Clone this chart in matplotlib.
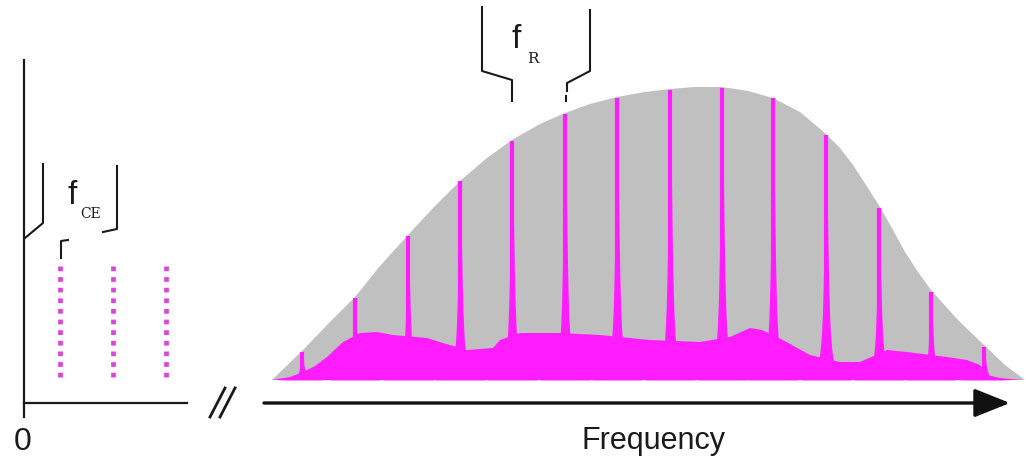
import numpy as np
import matplotlib
matplotlib.use("Agg")
import matplotlib.pyplot as plt

# all coordinates are in picture pixels (x right, y down)
baseline = 380

# broad gray spectral envelope
env_x = [272, 303, 330, 355, 380, 408, 435, 460, 487, 512, 540, 565, 590, 617,
         645, 670, 695, 722, 748, 773, 800, 826, 840, 853, 866, 880, 893, 905,
         918, 931, 958, 984, 1005, 1025]
env_y = [380, 350, 322, 297, 266, 235, 206, 181, 158, 140, 124, 113, 104, 97,
         92, 89, 87, 87, 91, 98, 112, 134, 148, 165, 185, 207, 230, 252,
         272, 290, 320, 345, 365, 380]

# magenta noise floor
floor_x = [272, 290, 303, 315, 327, 343, 360, 377, 393, 427, 443, 457, 467,
           493, 500, 520, 560, 600, 650, 700, 730, 750, 762, 783, 810, 840,
           860, 887, 907, 947, 967, 980, 987, 1000, 1022]
floor_y = [380, 377, 372, 366, 357, 342, 333, 332, 335, 338, 343, 347, 350,
           348, 340, 333, 333, 335, 340, 342, 337, 328, 330, 340, 355, 362,
           362, 350, 352, 357, 360, 365, 375, 378, 380]

# comb teeth: position and top
comb_x = [302, 355, 408, 460, 512, 565, 617, 670, 722, 773, 826, 879, 931, 984]
comb_top = [352, 298, 236, 181, 141, 114, 98, 90, 88, 98, 135, 208, 292, 347]

# offset comb near zero frequency (dotted)
ce_x = [60, 113, 166]
ce_top, ce_bottom = 266, 378

magenta = "#ff1cff"
gray = "#c0c0c0"
ink = "#1a1a1a"

fig = plt.figure(figsize=(10.26, 4.62), dpi=100)
ax = fig.add_axes([0, 0, 1, 1])
ax.set_xlim(0, 1026)
ax.set_ylim(462, 0)
ax.axis("off")

ax.fill(env_x, env_y, color=gray, lw=0, zorder=1)
ax.fill(floor_x, floor_y, color=magenta, lw=0, zorder=2)

# lorentzian-ish flare at the base of each tooth
dx = np.linspace(-25, 25, 201)
for x0, top in zip(comb_x, comb_top):
    prof = baseline - (baseline - top) / (1 + (dx / 2.2) ** 2)
    ax.fill_between(x0 + dx, baseline, prof, color=magenta, lw=0, zorder=3)
    ax.plot([x0, x0], [baseline, top], color=magenta, lw=3.0,
            solid_capstyle="butt", zorder=3)

ax.vlines(ce_x, ce_top, ce_bottom, colors="#dd44dd", lw=3.4,
          linestyles=(0, (1, 1.25)), zorder=3)

# left axis
ax.plot([24, 24, 187], [60, 403, 403], color=ink, lw=1.6,
        solid_joinstyle="miter", zorder=4)
ax.plot([24, 24], [403, 417], color=ink, lw=1.6, zorder=4)

# axis break
for sx in [0, 10]:
    ax.plot([210 + sx, 225 + sx], [417, 388], color=ink, lw=2.0, zorder=4)

# frequency axis arrow
ax.annotate("", xy=(1010, 403), xytext=(264, 403),
            arrowprops=dict(arrowstyle="-|>,head_length=0.55,head_width=0.22",
                            mutation_scale=40, lw=2.4, color="#111111",
                            shrinkA=0, shrinkB=0), zorder=4)

# f_CE brackets
ax.plot([43, 43, 25], [164, 223, 238], color=ink, lw=1.5, zorder=4)
ax.plot([117, 117, 103], [166, 229, 232], color=ink, lw=1.5, zorder=4)
ax.plot([61, 61, 68], [258, 241, 240], color=ink, lw=1.5, zorder=4)
ax.text(67, 204, "f", fontsize=24, family="Liberation Sans", color=ink,
        ha="left", va="baseline")
ax.text(80, 218, "CE", fontsize=10, family="DejaVu Serif", color=ink,
        ha="left", va="baseline")

# f_R brackets
ax.plot([482, 482, 512, 512], [7, 71, 80, 101], color=ink, lw=1.5, zorder=4)
ax.plot([590, 590, 567, 567], [10, 71, 83, 91], color=ink, lw=1.5, zorder=4)
ax.plot([566, 566], [96, 101], color=ink, lw=1.5, zorder=4)
ax.text(512, 48, "f", fontsize=24, family="Liberation Sans", color=ink,
        ha="left", va="baseline")
ax.text(527, 63, "R", fontsize=11, family="DejaVu Serif", color=ink,
        ha="left", va="baseline")

ax.text(23, 450, "0", fontsize=23, family="Liberation Sans", color=ink,
        ha="center", va="baseline")
ax.text(653, 449, "Frequency", fontsize=22, family="Liberation Sans",
        color=ink, ha="center", va="baseline")

fig.savefig("out.png", dpi=100)
